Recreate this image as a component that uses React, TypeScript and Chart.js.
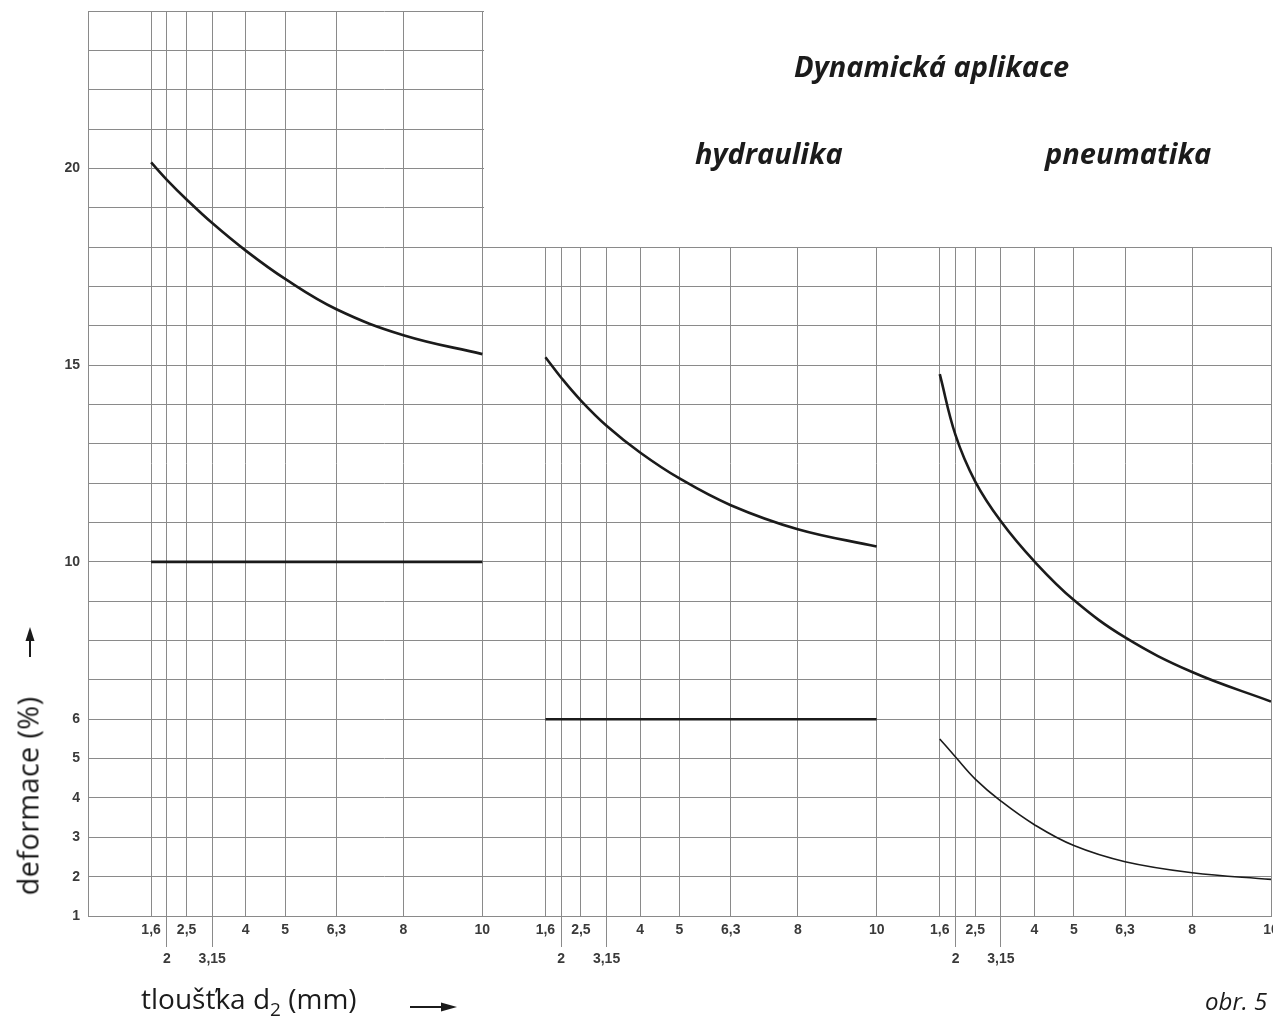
import React, { useEffect, useRef } from 'react';
import { Chart, registerables } from 'chart.js';

Chart.register(...registerables);

// ---------- data ----------
// thickness d2 (mm) – the same R10 steps in every panel
const thicknessTicks = [1.6, 2, 2.5, 3.15, 4, 5, 6.3, 8, 10];
const thicknessLabels = ['1,6', '2', '2,5', '3,15', '4', '5', '6,3', '8', '10'];
const lowerRowTicks = [2, 3.15];
const panelCount = 3;
const panelSpan = 10; // each panel runs 0 … 10 mm
const otherPanelsTop = 18;

// deformation (%)
const deformMin = 1;
const deformMax = 24;
const deformLabelled = [1, 2, 3, 4, 5, 6, 10, 15, 20];

// sample positions of the curves (mm)
const curveX = [1.6, 2, 2.5, 3.15, 4, 5, 6.3, 8, 10];
const limitX = [1.6, 10];

// panel 1
const panel1Curve = [20.15, 19.71, 19.21, 18.61, 17.91, 17.19, 16.42, 15.76, 15.28];
const panel1Limit = [10, 10];
// panel 2 – hydraulika
const hydraulikaCurve = [15.2, 14.68, 14.1, 13.46, 12.78, 12.12, 11.44, 10.83, 10.39];
const hydraulikaLimit = [6, 6];
// panel 3 – pneumatika
const pneumatikaUpper = [14.77, 13.22, 12.04, 11.03, 10.01, 9.03, 8.08, 7.2, 6.45];
const pneumatikaLower = [5.5, 5.04, 4.48, 3.92, 3.32, 2.79, 2.38, 2.1, 1.93];

// ---------- layout / style ----------
const W = 1273;
const H = 1023;
const AREA_LEFT = 88;
const AREA_TOP = 11;
const AREA_BOTTOM = 916;
const AREA_RIGHT_PAD = 2;
const GRID = '#8a8a8a';
const INK = '#1b1b1b';
const TICK_INK = '#3a3a3a';
const TICK_FONT = 'Liberation Sans, Arial, sans-serif';
const TEXT_FONT = '"Open Sans", "Noto Sans", sans-serif';

const series = [
  { panel: 0, xs: curveX, ys: panel1Curve, width: 2.6 },
  { panel: 0, xs: limitX, ys: panel1Limit, width: 2.6 },
  { panel: 1, xs: curveX, ys: hydraulikaCurve, width: 2.6 },
  { panel: 1, xs: limitX, ys: hydraulikaLimit, width: 2.6 },
  { panel: 2, xs: curveX, ys: pneumatikaUpper, width: 2.6 },
  { panel: 2, xs: curveX, ys: pneumatikaLower, width: 1.6 },
];

const xTickValues: number[] = [0];
const xTickText: (string | string[])[] = [''];
for (let p = 0; p < panelCount; p++) {
  thicknessTicks.forEach((t, i) => {
    xTickValues.push(p * panelSpan + t);
    xTickText.push(lowerRowTicks.includes(t) ? ['', thicknessLabels[i]] : thicknessLabels[i]);
  });
}
const lowerRowIndex = new Set<number>();
xTickText.forEach((t, i) => { if (Array.isArray(t)) lowerRowIndex.add(i); });

const maskPlugin = {
  id: 'panelMask',
  beforeDatasetsDraw(chart: any) {
    const { ctx, scales } = chart;
    const left = Math.ceil(scales.x.getPixelForValue(panelSpan)) + 1;
    const bottom = Math.floor(scales.y.getPixelForValue(otherPanelsTop));
    ctx.save();
    ctx.fillStyle = '#ffffff';
    ctx.fillRect(left, 0, W - left, bottom);
    ctx.restore();
  },
};

export default function App() {
  const ref = useRef<HTMLCanvasElement | null>(null);

  useEffect(() => {
    if (!ref.current) return;
    const chart = new Chart(ref.current, {
      type: 'line',
      data: {
        datasets: series.map((s) => ({
          data: s.xs.map((x, i) => ({ x: s.panel * panelSpan + x, y: s.ys[i] })),
          borderColor: INK,
          borderWidth: s.width,
          pointRadius: 0,
          fill: false,
          tension: 0.4,
        })),
      },
      options: {
        responsive: false,
        maintainAspectRatio: false,
        animation: false,
        devicePixelRatio: 1,
        events: [],
        layout: { padding: { left: 0, top: AREA_TOP, right: AREA_RIGHT_PAD, bottom: 0 } },
        plugins: { legend: { display: false }, tooltip: { enabled: false }, title: { display: false } },
        scales: {
          x: {
            type: 'linear',
            min: 0,
            max: panelCount * panelSpan,
            afterBuildTicks: (s: any) => { s.ticks = xTickValues.map((v) => ({ value: v })); },
            afterFit: (s: any) => { s.height = H - AREA_BOTTOM; s.paddingLeft = 0; s.paddingRight = 0; },
            grid: {
              color: GRID,
              lineWidth: 1,
              drawTicks: true,
              tickLength: 31,
              tickWidth: 1,
              tickColor: (c: any) => (lowerRowIndex.has(c.index) ? GRID : 'rgba(0,0,0,0)'),
            },
            border: { color: GRID, width: 1 },
            ticks: {
              autoSkip: false,
              maxRotation: 0,
              minRotation: 0,
              padding: -31,
              color: TICK_INK,
              font: { family: TICK_FONT, size: 14, weight: 'bold', lineHeight: 29 / 14 },
              callback: (_v: any, i: number) => xTickText[i],
            },
          },
          y: {
            type: 'linear',
            min: deformMin,
            max: deformMax,
            afterFit: (s: any) => { s.width = AREA_LEFT; s.paddingTop = 0; s.paddingBottom = 0; },
            grid: { color: GRID, lineWidth: 1, drawTicks: false },
            border: { color: GRID, width: 1 },
            ticks: {
              stepSize: 1,
              autoSkip: false,
              padding: 8,
              color: TICK_INK,
              font: { family: TICK_FONT, size: 14, weight: 'bold' },
              callback: (v: any) => (deformLabelled.includes(Number(v)) ? String(v) : ''),
            },
          },
        },
      },
      plugins: [maskPlugin],
    });
    return () => chart.destroy();
  }, []);

  const text = (extra: React.CSSProperties): React.CSSProperties => ({
    position: 'absolute',
    whiteSpace: 'nowrap',
    color: INK,
    fontFamily: TEXT_FONT,
    ...extra,
  });
  const heading: React.CSSProperties = { fontSize: 29, lineHeight: '29px', fontWeight: 700, fontStyle: 'italic' };

  return (
    <div style={{ position: 'absolute', left: 0, top: 0, width: W, height: H, background: '#fff', overflow: 'hidden' }}>
      <canvas ref={ref} width={W} height={H} style={{ position: 'absolute', left: 0, top: 0, width: W, height: H }} />
      <div style={text({ left: 794, top: 51, ...heading })}>Dynamická aplikace</div>
      <div style={text({ left: 695, top: 138, ...heading })}>hydraulika</div>
      <div style={text({ left: 1045, top: 138, ...heading })}>pneumatika</div>
      <div
        style={text({
          left: 27,
          top: 796,
          fontSize: 29,
          lineHeight: '29px',
          letterSpacing: '0.3px',
          transform: 'translate(-50%, -50%) rotate(-90deg)',
        })}
      >
        deformace (%)
      </div>
      <div style={text({ left: 141, top: 984, fontSize: 28, lineHeight: '28px' })}>
        tloušťka d<span style={{ fontSize: 19, position: 'relative', top: 7 }}>2</span> (mm)
      </div>
      <div style={text({ left: 1205, top: 989, fontSize: 24, lineHeight: '24px', fontStyle: 'italic' })}>obr. 5</div>
      <svg width={W} height={H} style={{ position: 'absolute', left: 0, top: 0, pointerEvents: 'none' }}>
        <line x1={30} y1={657} x2={30} y2={638} stroke={INK} strokeWidth={2} />
        <polygon points="30,627 25.5,641 34.5,641" fill={INK} />
        <line x1={410} y1={1007} x2={444} y2={1007} stroke={INK} strokeWidth={2} />
        <polygon points="457,1007 441,1002.5 441,1011.5" fill={INK} />
      </svg>
    </div>
  );
}
